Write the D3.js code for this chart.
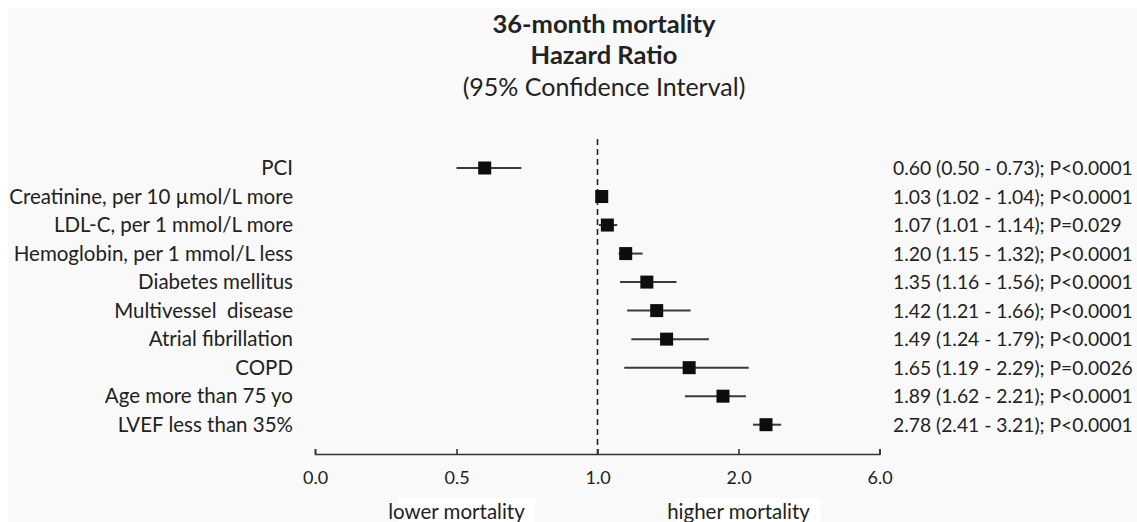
<!DOCTYPE html>
<html>
<head>
<meta charset="utf-8">
<script src="https://cdn.jsdelivr.net/npm/d3@7"></script>
<style>
  body { margin: 0; background: #fff; }
  text { font-family: Lato, "Open Sans", sans-serif; fill: #222; white-space: pre; }
</style>
</head>
<body>
<div id="chart"></div>
<script>
var svgWidth = 1137
var svgHeight = 522

// forest plot data
var factors = ["PCI", "Creatinine, per 10 \u00b5mol/L more", "LDL-C, per 1 mmol/L more",
  "Hemoglobin, per 1 mmol/L less", "Diabetes mellitus", "Multivessel  disease",
  "Atrial fibrillation", "COPD", "Age more than 75 yo", "LVEF less than 35%"]
var hazard = [0.60, 1.03, 1.07, 1.20, 1.35, 1.42, 1.49, 1.65, 1.89, 2.78]
var ciLow = [0.50, 1.02, 1.01, 1.15, 1.16, 1.21, 1.24, 1.19, 1.62, 2.41]
var ciHigh = [0.73, 1.04, 1.14, 1.32, 1.56, 1.66, 1.79, 2.29, 2.21, 3.21]
var pValues = ["P<0.0001", "P<0.0001", "P=0.029", "P<0.0001", "P<0.0001",
  "P<0.0001", "P<0.0001", "P=0.0026", "P<0.0001", "P<0.0001"]
var tickValues = [0, 0.5, 1, 2, 6]

var rows = factors.map((f, i) => ({
  name: f, hr: hazard[i], lo: ciLow[i], hi: ciHigh[i], p: pValues[i]
}))

var svg = d3.select("#chart")
  .append("svg")
  .attr("width", svgWidth)
  .attr("height", svgHeight)

svg.append("rect")
  .attr("x", 8).attr("y", 8)
  .attr("width", svgWidth - 8).attr("height", svgHeight - 8)
  .attr("fill", "#f9f9f9")

// piecewise scale: each tick interval gets the same width
var x = d3.scaleLinear()
  .domain(tickValues)
  .range([315, 456.5, 597.5, 738.5, 879.5])

var y = d3.scalePoint()
  .domain(factors)
  .range([168, 424.7])

var axisY = 454

// title
var title = svg.append("text")
  .attr("text-anchor", "middle")
title.append("tspan").attr("x", 604).attr("y", 33)
  .attr("font-size", 25.5).attr("font-weight", "bold").text("36-month mortality")
title.append("tspan").attr("x", 604).attr("y", 64)
  .attr("font-size", 25.5).attr("font-weight", "bold").text("Hazard Ratio")
title.append("tspan").attr("x", 604).attr("y", 96)
  .attr("font-size", 25).text("(95% Confidence Interval)")

// reference line at HR = 1
svg.append("line")
  .attr("x1", x(1)).attr("x2", x(1))
  .attr("y1", 139).attr("y2", axisY)
  .attr("stroke", "#222")
  .attr("stroke-width", 1.6)
  .attr("stroke-dasharray", "6,4")

var axis = d3.axisBottom(x)
  .tickValues(tickValues)
  .tickFormat(d3.format(".1f"))
  .tickSizeInner(-5)
  .tickSizeOuter(-5)
  .tickPadding(17)

var axisG = svg.append("g")
  .attr("transform", `translate(0, ${axisY})`)
  .call(axis)
axisG.selectAll("path, line").attr("stroke", "#333").attr("stroke-width", 1.6)
axisG.selectAll("text")
  .attr("font-size", 18)
  .attr("font-family", "Lato, sans-serif")
  .attr("fill", "#222")

// whiskers
svg.selectAll(".ci")
  .data(rows)
  .enter()
  .append("line")
  .attr("x1", d => x(d.lo))
  .attr("x2", d => x(d.hi))
  .attr("y1", d => y(d.name))
  .attr("y2", d => y(d.name))
  .attr("stroke", "#3a3a3a")
  .attr("stroke-width", 2)

var box = 13
svg.selectAll(".hr")
  .data(rows)
  .enter()
  .append("rect")
  .attr("x", d => x(d.hr) - box / 2)
  .attr("y", d => y(d.name) - box / 2)
  .attr("width", box)
  .attr("height", box)
  .attr("fill", "#0d0d0d")

// labels
svg.selectAll(".label")
  .data(rows)
  .enter()
  .append("text")
  .attr("x", 293)
  .attr("y", d => y(d.name) + 7)
  .attr("text-anchor", "end")
  .attr("font-size", 20.5)
  .text(d => d.name)

svg.selectAll(".value")
  .data(rows)
  .enter()
  .append("text")
  .attr("x", 893)
  .attr("y", d => y(d.name) + 7)
  .attr("font-size", 19.3)
  .text(d => `${d.hr.toFixed(2)} (${d.lo.toFixed(2)} - ${d.hi.toFixed(2)}); ${d.p}`)

// direction labels
var dirs = [{t: "lower mortality", v: 0.5}, {t: "higher mortality", v: 2}]
var bgs = svg.selectAll(".dirbg")
  .data(dirs)
  .enter()
  .append("rect")
  .attr("fill", "#fff")

var dirText = svg.selectAll(".dir")
  .data(dirs)
  .enter()
  .append("text")
  .attr("x", d => x(d.v))
  .attr("y", 519)
  .attr("text-anchor", "middle")
  .attr("font-size", 20.5)
  .text(d => d.t)

dirText.each(function (d, i) {
  var b = this.getBBox()
  d3.select(bgs.nodes()[i])
    .attr("x", b.x + 10)
    .attr("y", 498)
    .attr("width", b.width)
    .attr("height", 24)
})
</script>
</body>
</html>
